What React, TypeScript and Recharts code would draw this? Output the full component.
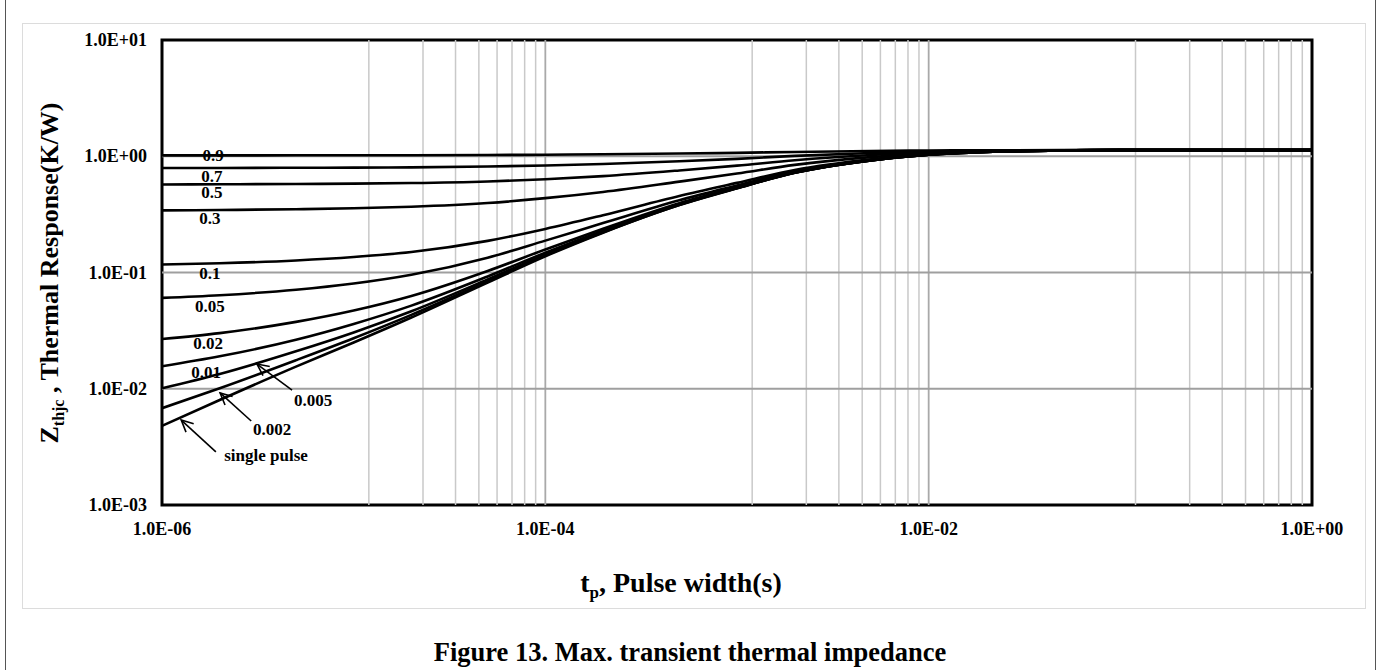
import React from 'react';
import { LineChart, Line, XAxis, YAxis, ReferenceLine, ReferenceDot, ReferenceArea } from 'recharts';

// pulse widths (s) where the curves were read
const pulseWidths = [1e-6, 2e-6, 5e-6, 1e-5, 2e-5, 5e-5, 1e-4, 2e-4, 5e-4, 1e-3, 2e-3, 5e-3, 1e-2, 2e-2, 5e-2, 1e-1, 1];

// Zthjc (K/W) per duty cycle
const d09 = [1.018, 1.018, 1.019, 1.02, 1.021, 1.025, 1.031, 1.039, 1.055, 1.07, 1.089, 1.109, 1.12, 1.126, 1.129, 1.13, 1.13];
const d07 = [0.792, 0.793, 0.796, 0.799, 0.803, 0.816, 0.832, 0.857, 0.905, 0.95, 1.007, 1.067, 1.1, 1.118, 1.127, 1.13, 1.13];
const d05 = [0.572, 0.574, 0.577, 0.581, 0.588, 0.607, 0.634, 0.675, 0.755, 0.83, 0.925, 1.025, 1.08, 1.11, 1.125, 1.13, 1.13];
const d03 = [0.342, 0.345, 0.35, 0.357, 0.368, 0.396, 0.436, 0.493, 0.605, 0.71, 0.843, 0.983, 1.06, 1.102, 1.123, 1.13, 1.13];
const d01 = [0.117, 0.12, 0.127, 0.136, 0.15, 0.187, 0.237, 0.311, 0.455, 0.59, 0.761, 0.941, 1.04, 1.094, 1.121, 1.13, 1.13];
const d005 = [0.0605, 0.0638, 0.071, 0.0803, 0.0955, 0.134, 0.188, 0.266, 0.418, 0.56, 0.741, 0.931, 1.035, 1.092, 1.12, 1.13, 1.13];
const d002 = [0.0268, 0.0301, 0.0376, 0.0471, 0.0628, 0.103, 0.158, 0.238, 0.395, 0.542, 0.728, 0.924, 1.032, 1.091, 1.12, 1.13, 1.13];
const d001 = [0.0156, 0.019, 0.0264, 0.0361, 0.0519, 0.0925, 0.148, 0.229, 0.388, 0.536, 0.724, 0.922, 1.031, 1.09, 1.12, 1.13, 1.13];
const d0005 = [0.0101, 0.0134, 0.021, 0.0305, 0.0464, 0.0872, 0.143, 0.2245, 0.384, 0.533, 0.722, 0.921, 1.03, 1.09, 1.12, 1.13, 1.13];
const d0002 = [0.0068, 0.0101, 0.0176, 0.0272, 0.0432, 0.0841, 0.14, 0.2218, 0.3815, 0.531, 0.721, 0.92, 1.03, 1.09, 1.12, 1.13, 1.13];
const singlePulse = [0.0048, 0.008, 0.0155, 0.025, 0.041, 0.082, 0.138, 0.22, 0.38, 0.53, 0.72, 0.92, 1.03, 1.09, 1.12, 1.13, 1.13];

const series = [
  { key: 'd09', values: d09 },
  { key: 'd07', values: d07 },
  { key: 'd05', values: d05 },
  { key: 'd03', values: d03 },
  { key: 'd01', values: d01 },
  { key: 'd005', values: d005 },
  { key: 'd002', values: d002 },
  { key: 'd001', values: d001 },
  { key: 'd0005', values: d0005 },
  { key: 'd0002', values: d0002 },
  { key: 'single', values: singlePulse },
];

const xTicks = [1e-6, 1e-4, 1e-2, 1];
const xTickLabels = ['1.0E-06', '1.0E-04', '1.0E-02', '1.0E+00'];
const yTicks = [1e-3, 1e-2, 1e-1, 1, 10];
const yTickLabels = ['1.0E-03', '1.0E-02', '1.0E-01', '1.0E+00', '1.0E+01'];

// minor vertical grid (Excel base-100 log axis)
const minorGridX = [
  1.2e-5, 2.3e-5, 3.4e-5, 4.5e-5, 5.6e-5, 6.7e-5, 7.8e-5, 8.9e-5,
  1.2e-3, 2.3e-3, 3.4e-3, 4.5e-3, 5.6e-3, 6.7e-3, 7.8e-3, 8.9e-3,
  0.12, 0.23, 0.34, 0.45, 0.56, 0.67, 0.78, 0.89,
];
const majorGridX = [1e-4, 1e-2];
const majorGridY = [1e-2, 1e-1, 1];

// duty cycle labels placed next to the curves
const curveLabels = [
  { text: '0.9', tp: 1.85e-6, z: 1.005 },
  { text: '0.7', tp: 1.82e-6, z: 0.676 },
  { text: '0.5', tp: 1.82e-6, z: 0.483 },
  { text: '0.3', tp: 1.78e-6, z: 0.294 },
  { text: '0.1', tp: 1.78e-6, z: 0.099 },
  { text: '0.05', tp: 1.78e-6, z: 0.0505 },
  { text: '0.02', tp: 1.74e-6, z: 0.0243 },
  { text: '0.01', tp: 1.7e-6, z: 0.0139 },
  { text: '0.005', tp: 6.14e-6, z: 0.00785 },
  { text: '0.002', tp: 3.75e-6, z: 0.00442 },
  { text: 'single pulse', tp: 3.49e-6, z: 0.00264 },
];

const arrows = [
  { from: { tp: 4.77e-6, z: 0.00975 }, to: { tp: 3.13e-6, z: 0.0163 } },
  { from: { tp: 2.92e-6, z: 0.00528 }, to: { tp: 2.01e-6, z: 0.0092 } },
  { from: { tp: 1.91e-6, z: 0.00286 }, to: { tp: 1.26e-6, z: 0.00538 } },
];

const data = pulseWidths.map((tp, i) => {
  const row: any = { tp };
  series.forEach((s) => {
    row[s.key] = s.values[i];
  });
  return row;
});

const FONT = '"Liberation Serif", "Times New Roman", serif';

const XTick = (props: any) => {
  const { x, y, payload } = props;
  const idx = xTicks.indexOf(payload.value);
  return (
    <text x={x} y={y + 24} textAnchor="middle" dominantBaseline="central" fontFamily={FONT} fontWeight={700} fontSize={18} fill="#000">
      {xTickLabels[idx]}
    </text>
  );
};

const YTick = (props: any) => {
  const { x, y, payload } = props;
  const idx = yTicks.indexOf(payload.value);
  return (
    <text x={x - 15} y={y} textAnchor="end" dominantBaseline="central" fontFamily={FONT} fontWeight={700} fontSize={18} fill="#000">
      {yTickLabels[idx]}
    </text>
  );
};

const Arrow = (props: any) => {
  const { x1, y1, x2, y2 } = props;
  const ang = Math.atan2(y1 - y2, x1 - x2);
  const len = 13;
  const spread = 0.45;
  const a1 = ang + spread;
  const a2 = ang - spread;
  return (
    <g stroke="#000" strokeWidth={1.6} fill="none">
      <line x1={x1} y1={y1} x2={x2} y2={y2} />
      <polyline
        points={`${x2 + len * Math.cos(a1)},${y2 + len * Math.sin(a1)} ${x2},${y2} ${x2 + len * Math.cos(a2)},${y2 + len * Math.sin(a2)}`}
      />
    </g>
  );
};

export default function App() {
  return (
    <div style={{ position: 'absolute', left: 0, top: 0, width: 1381, height: 670, background: '#fff', fontFamily: FONT }}>
      <div style={{ position: 'absolute', left: 5, top: 0, width: 0, height: 670, borderLeft: '1px solid #555' }} />
      <div style={{ position: 'absolute', left: 1375, top: 0, width: 0, height: 670, borderLeft: '1px solid #555' }} />
      <div style={{ position: 'absolute', left: 22, top: 23, width: 1342, height: 584, border: '1px solid #dcdcdc' }} />
      <div style={{ position: 'absolute', left: 0, top: 0 }}>
        <LineChart width={1381} height={670} data={data} margin={{ top: 40, right: 69, bottom: 135, left: 0 }}>
          <XAxis
            dataKey="tp"
            type="number"
            scale="log"
            domain={[1e-6, 1]}
            allowDataOverflow
            ticks={xTicks}
            tick={<XTick />}
            tickLine={false}
            axisLine={false}
            tickSize={0}
            tickMargin={0}
            height={30}
          />
          <YAxis
            type="number"
            scale="log"
            domain={[1e-3, 10]}
            allowDataOverflow
            ticks={yTicks}
            tick={<YTick />}
            tickLine={false}
            axisLine={false}
            tickSize={0}
            tickMargin={0}
            width={162}
          />
          {minorGridX.map((v) => (
            <ReferenceLine key={`mx${v}`} x={v} stroke="#c9c9c9" strokeWidth={1.5} />
          ))}
          {majorGridX.map((v) => (
            <ReferenceLine key={`Mx${v}`} x={v} stroke="#a9a9a9" strokeWidth={1.8} />
          ))}
          {majorGridY.map((v) => (
            <ReferenceLine key={`My${v}`} y={v} stroke="#9f9f9f" strokeWidth={2} />
          ))}
          {series.map((s) => (
            <Line
              key={s.key}
              dataKey={s.key}
              type="monotone"
              stroke="#000"
              strokeWidth={2.6}
              dot={false}
              activeDot={false}
              isAnimationActive={false}
            />
          ))}
          <ReferenceArea x1={1e-6} x2={1} y1={1e-3} y2={10} fill="none" stroke="#000" strokeWidth={3} ifOverflow="visible" />
          {arrows.map((a, i) => (
            <ReferenceLine
              key={`ar${i}`}
              segment={[{ x: a.from.tp, y: a.from.z }, { x: a.to.tp, y: a.to.z }]}
              shape={<Arrow />}
              ifOverflow="visible"
            />
          ))}
          {curveLabels.map((l) => (
            <ReferenceDot
              key={`lb${l.text}`}
              x={l.tp}
              y={l.z}
              r={0}
              ifOverflow="visible"
              shape={(p: any) => (
                <text x={p.cx} y={p.cy} textAnchor="middle" dominantBaseline="central" fontFamily={FONT} fontWeight={700} fontSize={17} fill="#000">
                  {l.text}
                </text>
              )}
            />
          ))}
        </LineChart>
      </div>
      <div
        style={{
          position: 'absolute',
          left: 52,
          top: 273,
          transform: 'translate(-50%, -50%) rotate(-90deg)',
          whiteSpace: 'nowrap',
          fontWeight: 700,
          fontSize: 26,
          lineHeight: 1,
          color: '#000',
        }}
      >
        Z<sub style={{ fontSize: 16 }}>thjc</sub> , Thermal Response(K/W)
      </div>
      <div
        style={{
          position: 'absolute',
          left: 681,
          top: 585,
          transform: 'translate(-50%, -50%)',
          whiteSpace: 'nowrap',
          fontWeight: 700,
          fontSize: 28,
          lineHeight: 1,
          color: '#000',
        }}
      >
        t<sub style={{ fontSize: 17 }}>p</sub>, Pulse width(s)
      </div>
      <div
        style={{
          position: 'absolute',
          left: 690,
          top: 652,
          transform: 'translate(-50%, -50%)',
          whiteSpace: 'nowrap',
          fontWeight: 700,
          fontSize: 26.5,
          lineHeight: 1,
          color: '#000',
        }}
      >
        Figure 13. Max. transient thermal impedance
      </div>
    </div>
  );
}
